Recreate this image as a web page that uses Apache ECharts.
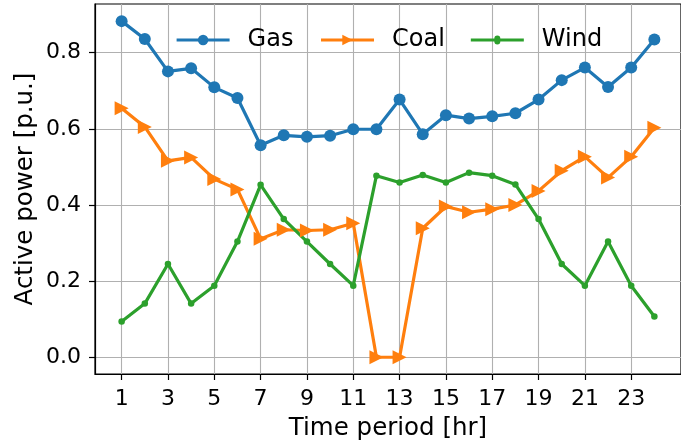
<!DOCTYPE html>
<html>
<head>
<meta charset="utf-8">
<script src="https://cdn.jsdelivr.net/npm/echarts@6/dist/echarts.min.js"></script>
<style>
  html, body { margin: 0; padding: 0; background: #fff; }
  #chart { width: 681px; height: 446px; }
</style>
</head>
<body>
<div id="chart"></div>
<script>
// Hourly dispatch of each generator type
const hours = [1,2,3,4,5,6,7,8,9,10,11,12,13,14,15,16,17,18,19,20,21,22,23,24];
const gas  = [0.883,0.836,0.751,0.759,0.709,0.681,0.557,0.583,0.579,0.582,0.599,0.599,
              0.677,0.586,0.636,0.627,0.633,0.641,0.677,0.728,0.761,0.710,0.761,0.835];
const coal = [0.654,0.605,0.516,0.525,0.468,0.441,0.311,0.335,0.333,0.335,0.352,0.0,
              0.0,0.339,0.396,0.381,0.389,0.400,0.437,0.490,0.527,0.472,0.527,0.603];
const wind = [0.094,0.141,0.245,0.141,0.188,0.304,0.453,0.363,0.304,0.245,0.188,0.477,
              0.459,0.479,0.459,0.485,0.477,0.454,0.363,0.245,0.188,0.304,0.188,0.107];
const xTicks = [1,3,5,7,9,11,13,15,17,19,21,23];
const yTicks = [0.0,0.2,0.4,0.6,0.8];

const FONT = 'DejaVu Sans';
const pairs = (ys) => hours.map((h, i) => [h, ys[i]]);

// Legend glyph for the wind series: thin line with a small dot, in a 53x13 box
const windIcon = 'path://M0,0 L0.01,0 L0,0.01 Z M53,13 L52.99,13 L53,12.99 Z ' +
                 'M0,5 L23.5,5 A3,3 0 0 1 29.5,5 L53,5 L53,8 L29.5,8 A3,3 0 0 1 23.5,8 L0,8 Z';

const chart = echarts.init(document.getElementById('chart'), null, { renderer: 'canvas' });
chart.setOption({
  animation: false,
  backgroundColor: '#ffffff',
  textStyle: { fontFamily: FONT },
  grid: {
    left: 95, top: 4, right: -7, bottom: 72,
    show: true, borderColor: '#000', borderWidth: 1.2, backgroundColor: 'transparent'
  },
  legend: {
    top: 28, left: 175, padding: 0,
    itemWidth: 53, itemHeight: 13, itemGap: 26,
    lineStyle: { width: 3.2 },
    textStyle: { fontFamily: FONT, fontSize: 24, color: '#000', padding: [0, 0, 0, 13] },
    data: [{ name: 'Gas' }, { name: 'Coal' }, { name: 'Wind', icon: windIcon }]
  },
  xAxis: {
    type: 'value', min: -0.15, max: 25.15,
    name: 'Time period [hr]', nameLocation: 'middle', nameGap: 42,
    nameTextStyle: { fontFamily: FONT, fontSize: 24.5, color: '#000' },
    axisLine: { show: true, onZero: false, lineStyle: { color: '#000', width: 1.2 } },
    axisTick: { show: true, length: 6, customValues: xTicks, lineStyle: { color: '#000', width: 1.2 } },
    axisLabel: { customValues: xTicks, fontFamily: FONT, fontSize: 22, color: '#000', margin: 14 },
    splitLine: { show: true, lineStyle: { color: '#b0b0b0', width: 1.1 } }
  },
  yAxis: {
    type: 'value', min: -0.044, max: 0.928,
    name: 'Active power [p.u.]', nameLocation: 'middle', nameGap: 57, nameRotate: 90,
    nameMoveOverlap: false,
    nameTextStyle: { fontFamily: FONT, fontSize: 24.5, color: '#000' },
    axisLine: { show: true, onZero: false, lineStyle: { color: '#000', width: 1.2 } },
    axisTick: { show: true, length: 6, customValues: yTicks, lineStyle: { color: '#000', width: 1.2 } },
    axisLabel: { customValues: yTicks, fontFamily: FONT, fontSize: 22, color: '#000', margin: 14,
                 formatter: (v) => v.toFixed(1) },
    splitLine: { show: true, lineStyle: { color: '#b0b0b0', width: 1.1 } }
  },
  series: [
    { name: 'Gas', type: 'line', data: pairs(gas), color: '#1f77b4',
      symbol: 'circle', symbolSize: 12, lineStyle: { width: 3.2 }, itemStyle: { color: '#1f77b4' } },
    { name: 'Coal', type: 'line', data: pairs(coal), color: '#ff7f0e',
      symbol: 'triangle', symbolRotate: -90, symbolSize: 14, lineStyle: { width: 3.2 }, itemStyle: { color: '#ff7f0e' } },
    { name: 'Wind', type: 'line', data: pairs(wind), color: '#2ca02c',
      symbol: 'circle', symbolSize: 6.5, lineStyle: { width: 3.2 }, itemStyle: { color: '#2ca02c' } }
  ]
});
</script>
</body>
</html>
